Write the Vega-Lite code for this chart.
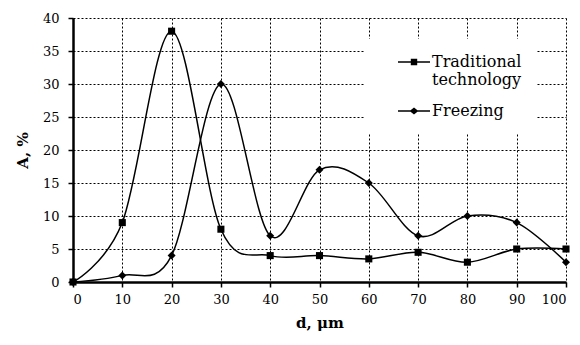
{
  "$schema": "https://vega.github.io/schema/vega-lite/v6.json",
  "autosize": "none",
  "width": 493,
  "height": 264,
  "padding": {"left": 73, "top": 18, "right": 14, "bottom": 63},
  "background": "white",
  "config": {
    "view": {"stroke": null},
    "font": "DejaVu Serif",
    "axis": {
      "labelFont": "DejaVu Serif",
      "titleFont": "DejaVu Serif",
      "labelFontSize": 13,
      "titleFontSize": 15,
      "labelColor": "black",
      "titleColor": "black",
      "titleFontWeight": "bold",
      "domainColor": "black",
      "domainWidth": 2.5,
      "tickColor": "black",
      "tickWidth": 1.5,
      "tickSize": 5,
      "gridColor": "black",
      "gridDash": [2, 2],
      "gridWidth": 1,
      "gridOpacity": 1
    }
  },
  "data": {
    "values": [
      {"d": 0, "A": 0, "series": "Traditional technology"},
      {"d": 10, "A": 9, "series": "Traditional technology"},
      {"d": 20, "A": 38, "series": "Traditional technology"},
      {"d": 30, "A": 8, "series": "Traditional technology"},
      {"d": 40, "A": 4, "series": "Traditional technology"},
      {"d": 50, "A": 4, "series": "Traditional technology"},
      {"d": 60, "A": 3.5, "series": "Traditional technology"},
      {"d": 70, "A": 4.5, "series": "Traditional technology"},
      {"d": 80, "A": 3, "series": "Traditional technology"},
      {"d": 90, "A": 5, "series": "Traditional technology"},
      {"d": 100, "A": 5, "series": "Traditional technology"},
      {"d": 0, "A": 0, "series": "Freezing"},
      {"d": 10, "A": 1, "series": "Freezing"},
      {"d": 20, "A": 4, "series": "Freezing"},
      {"d": 30, "A": 30, "series": "Freezing"},
      {"d": 40, "A": 7, "series": "Freezing"},
      {"d": 50, "A": 17, "series": "Freezing"},
      {"d": 60, "A": 15, "series": "Freezing"},
      {"d": 70, "A": 7, "series": "Freezing"},
      {"d": 80, "A": 10, "series": "Freezing"},
      {"d": 90, "A": 9, "series": "Freezing"},
      {"d": 100, "A": 3, "series": "Freezing"}
    ]
  },
  "encoding": {
    "x": {
      "field": "d",
      "type": "quantitative",
      "scale": {"domain": [0, 100], "nice": false},
      "axis": {"values": [0, 10, 20, 30, 40, 50, 60, 70, 80, 90, 100], "title": "d, μm", "labelPadding": 6, "titlePadding": 9}
    },
    "y": {
      "field": "A",
      "type": "quantitative",
      "scale": {"domain": [0, 40], "nice": false},
      "axis": {"values": [0, 5, 10, 15, 20, 25, 30, 35, 40], "title": "A, %", "labelPadding": 9, "titlePadding": 12}
    }
  },
  "layer": [
    {
      "mark": {"type": "line", "interpolate": "cardinal", "color": "black", "strokeWidth": 1.5},
      "encoding": {"detail": {"field": "series"}}
    },
    {
      "transform": [{"filter": "datum.series == 'Traditional technology'"}],
      "mark": {"type": "point", "shape": "square", "filled": true, "color": "black", "opacity": 1, "size": 50}
    },
    {
      "transform": [{"filter": "datum.series == 'Freezing'"}],
      "mark": {"type": "point", "shape": "diamond", "filled": true, "color": "black", "opacity": 1, "size": 64}
    },
    {
      "mark": {"type": "point", "filled": true, "color": "black", "opacity": 0},
      "encoding": {
        "shape": {
          "field": "series",
          "type": "nominal",
          "scale": {
            "domain": ["Traditional technology", "Freezing"],
            "range": [
              "M-2,-0.08H2V0.08H-2Z M-0.4,-0.4H0.4V0.4H-0.4Z",
              "M-2,-0.08H2V0.08H-2Z M-0.55,0L0,-0.45L0.55,0L0,0.45Z"
            ]
          },
          "legend": {
            "title": null,
            "orient": "none",
            "legendX": 292,
            "legendY": 21,
            "fillColor": "white",
            "padding": 14,
            "symbolSize": 256,
            "symbolOffset": 26,
            "symbolOpacity": 1,
            "symbolFillColor": "black",
            "labelOffset": 9,
            "labelFont": "DejaVu Serif",
            "labelFontSize": 16,
            "labelColor": "black",
            "labelLimit": 300,
            "rowPadding": 14,
            "labelExpr": "datum.label == 'Traditional technology' ? ['Traditional', 'technology'] : datum.label"
          }
        },
        "size": {"value": 1}
      }
    }
  ]
}
